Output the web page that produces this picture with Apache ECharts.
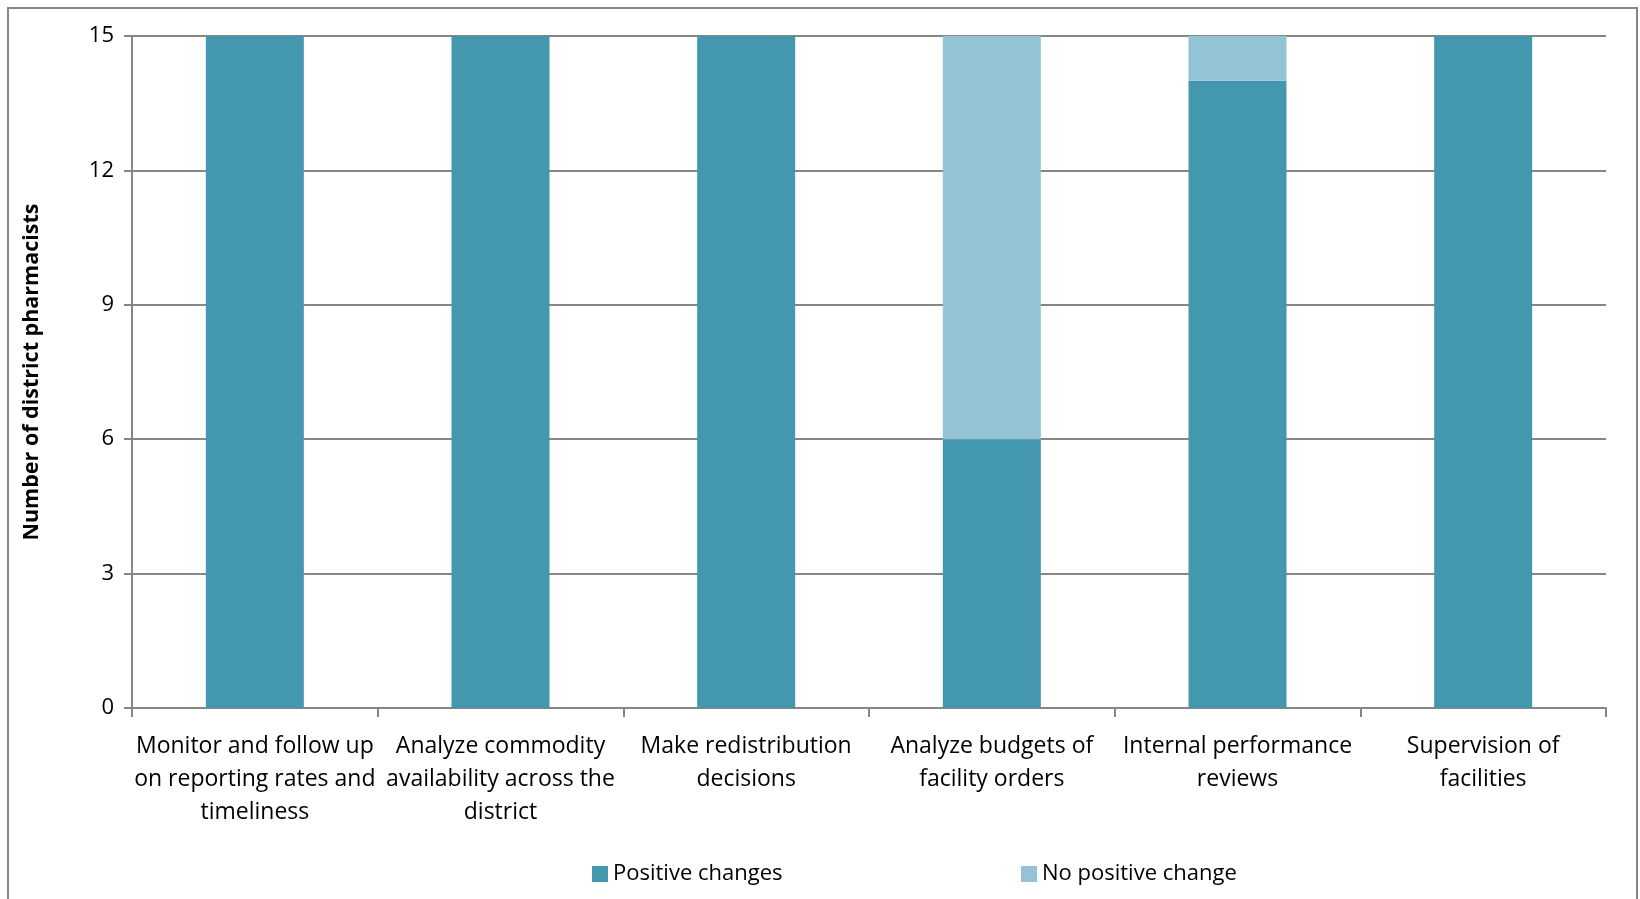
<!DOCTYPE html>
<html>
<head>
<meta charset="utf-8">
<title>District pharmacists: changes in practice</title>
<script src="https://cdn.jsdelivr.net/npm/echarts@6/dist/echarts.min.js"></script>
<style>
  html, body { margin: 0; padding: 0; background: #ffffff; }
  #chart { width: 1640px; height: 899px; }
</style>
</head>
<body>
<div id="chart"></div>
<script>
// Activities reported by district pharmacists
const categories = [
  'Monitor and follow up\non reporting rates and\ntimeliness',
  'Analyze commodity\navailability across the\ndistrict',
  'Make redistribution\ndecisions',
  'Analyze budgets of\nfacility orders',
  'Internal performance\nreviews',
  'Supervision of\nfacilities'
];
const positiveChanges = [15, 15, 15, 6, 14, 15];
const noPositiveChange = [0, 0, 0, 9, 1, 0];
const yTicks = [0, 3, 6, 9, 12, 15];

const FONT = '"Open Sans", "Liberation Sans", sans-serif';
const AXIS_GREY = '#868686';
const DARK = '#4398AF';
const LIGHT = '#93C4D5';

const chart = echarts.init(document.getElementById('chart'), null, { renderer: 'canvas' });

chart.setOption({
  backgroundColor: '#ffffff',
  animation: false,
  textStyle: { fontFamily: FONT },
  graphic: [{
    type: 'rect',
    shape: { x: 8, y: 8, width: 1629, height: 930 },
    style: { fill: 'none', stroke: AXIS_GREY, lineWidth: 2 },
    silent: true,
    z: -1
  }],
  legend: [
    {
      data: ['Positive changes'],
      left: 587, top: 858,
      icon: 'rect', itemWidth: 16, itemHeight: 16,
      textStyle: { fontFamily: FONT, fontSize: 22, color: '#000' },
      selectedMode: false
    },
    {
      data: ['No positive change'],
      left: 1016, top: 858,
      icon: 'rect', itemWidth: 16, itemHeight: 16,
      textStyle: { fontFamily: FONT, fontSize: 22, color: '#000' },
      selectedMode: false
    }
  ],
  grid: { left: 132, right: 34, top: 36, bottom: 191, containLabel: false },
  xAxis: {
    type: 'category',
    data: categories,
    axisLine: { lineStyle: { color: AXIS_GREY, width: 2 } },
    axisTick: { show: true, length: 9, lineStyle: { color: AXIS_GREY, width: 2 } },
    axisLabel: {
      interval: 0, margin: 22,
      fontFamily: FONT, fontSize: 23, lineHeight: 33, color: '#000', align: 'center'
    }
  },
  yAxis: {
    type: 'value',
    min: yTicks[0], max: yTicks[yTicks.length - 1], interval: 3,
    name: 'Number of district pharmacists',
    nameLocation: 'middle', nameGap: 89, nameRotate: 90,
    nameTextStyle: { fontFamily: FONT, fontSize: 21.5, fontWeight: 'bold', color: '#000' },
    axisLine: { show: true, lineStyle: { color: AXIS_GREY, width: 2 } },
    axisTick: { show: true, length: 8, lineStyle: { color: AXIS_GREY, width: 2 } },
    axisLabel: { margin: 18, fontFamily: FONT, fontSize: 22, color: '#000' },
    splitLine: { lineStyle: { color: AXIS_GREY, width: 2 } }
  },
  series: [
    {
      name: 'Positive changes',
      type: 'bar', stack: 'total', barWidth: 98,
      itemStyle: { color: DARK },
      data: positiveChanges
    },
    {
      name: 'No positive change',
      type: 'bar', stack: 'total', barWidth: 98,
      itemStyle: { color: LIGHT },
      data: noPositiveChange
    }
  ]
});
</script>
</body>
</html>
